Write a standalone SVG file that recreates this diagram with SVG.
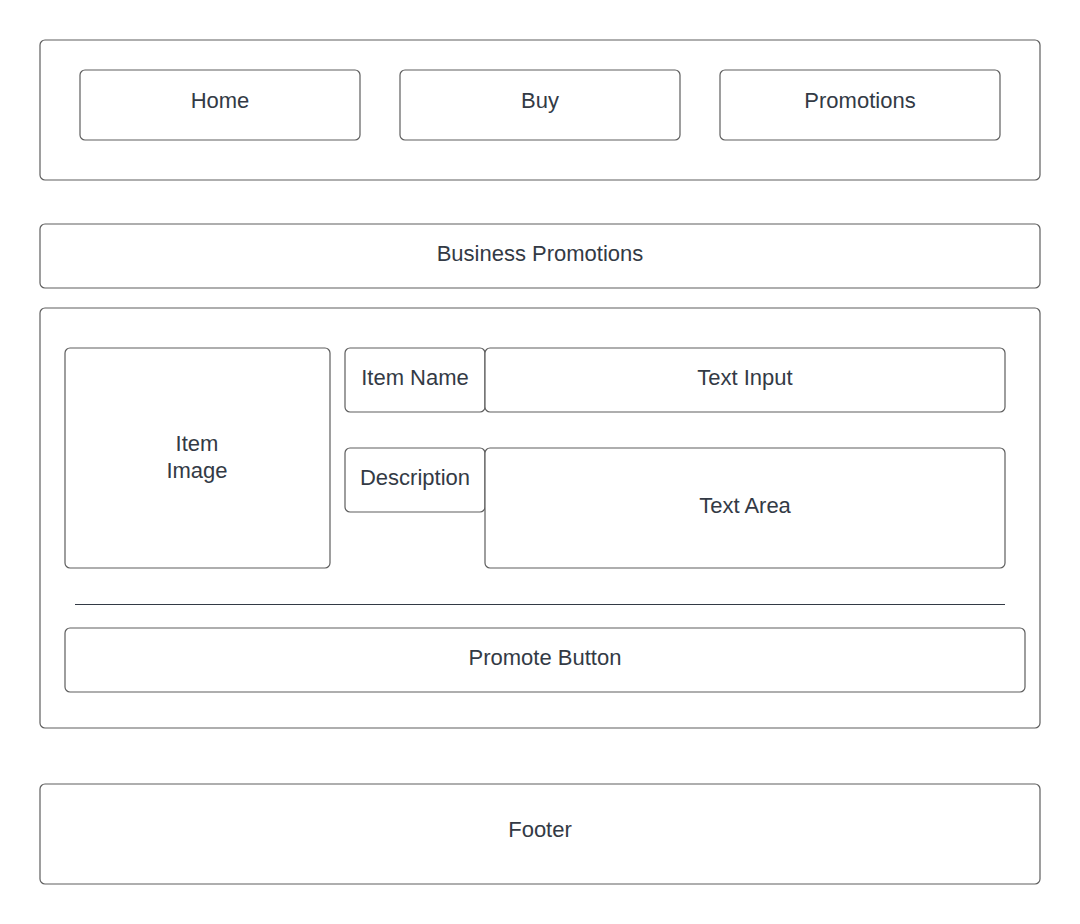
<svg xmlns="http://www.w3.org/2000/svg" width="1080" height="924" viewBox="0 0 1080 924">
<style>
.b{fill:#ffffff;stroke:#5e5e5e;stroke-width:1.2}
.t{font-family:"Liberation Sans",Arial,sans-serif;font-size:22px;fill:#333a45;text-anchor:middle;dominant-baseline:central}
</style>
<rect width="1080" height="924" fill="#ffffff"/>
<g id="header"><rect class="b" x="40" y="40" width="1000" height="140" rx="5"/></g>
<g id="home"><rect class="b" x="80" y="70" width="280" height="70" rx="5"/><text class="t" x="220" y="100.5">Home</text></g>
<g id="buy"><rect class="b" x="400" y="70" width="280" height="70" rx="5"/><text class="t" x="540" y="100.5">Buy</text></g>
<g id="promotions"><rect class="b" x="720" y="70" width="280" height="70" rx="5"/><text class="t" x="860" y="100.5">Promotions</text></g>
<g id="business"><rect class="b" x="40" y="224" width="1000" height="64" rx="5"/><text class="t" x="540" y="253">Business Promotions</text></g>
<g id="main"><rect class="b" x="40" y="308" width="1000" height="420" rx="5"/></g>
<g id="itemimage"><rect class="b" x="65" y="348" width="265" height="220" rx="5"/><text class="t" x="197" y="443.5">Item</text><text class="t" x="197" y="470.5">Image</text></g>
<g id="itemname"><rect class="b" x="345" y="348" width="140" height="64" rx="5"/><text class="t" x="415" y="377.5">Item Name</text></g>
<g id="textinput"><rect class="b" x="485" y="348" width="520" height="64" rx="5"/><text class="t" x="745" y="377.5">Text Input</text></g>
<g id="description"><rect class="b" x="345" y="448" width="140" height="64" rx="5"/><text class="t" x="415" y="477.5">Description</text></g>
<g id="textarea"><rect class="b" x="485" y="448" width="520" height="120" rx="5"/><text class="t" x="745" y="505.5">Text Area</text></g>
<g id="connectors"><line x1="75" y1="604.5" x2="1005" y2="604.5" stroke="#333a45" stroke-width="1.2"/></g>
<g id="promote"><rect class="b" x="65" y="628" width="960" height="64" rx="5"/><text class="t" x="545" y="657.5">Promote Button</text></g>
<g id="footer"><rect class="b" x="40" y="784" width="1000" height="100" rx="5"/><text class="t" x="540" y="829.5">Footer</text></g>
</svg>
